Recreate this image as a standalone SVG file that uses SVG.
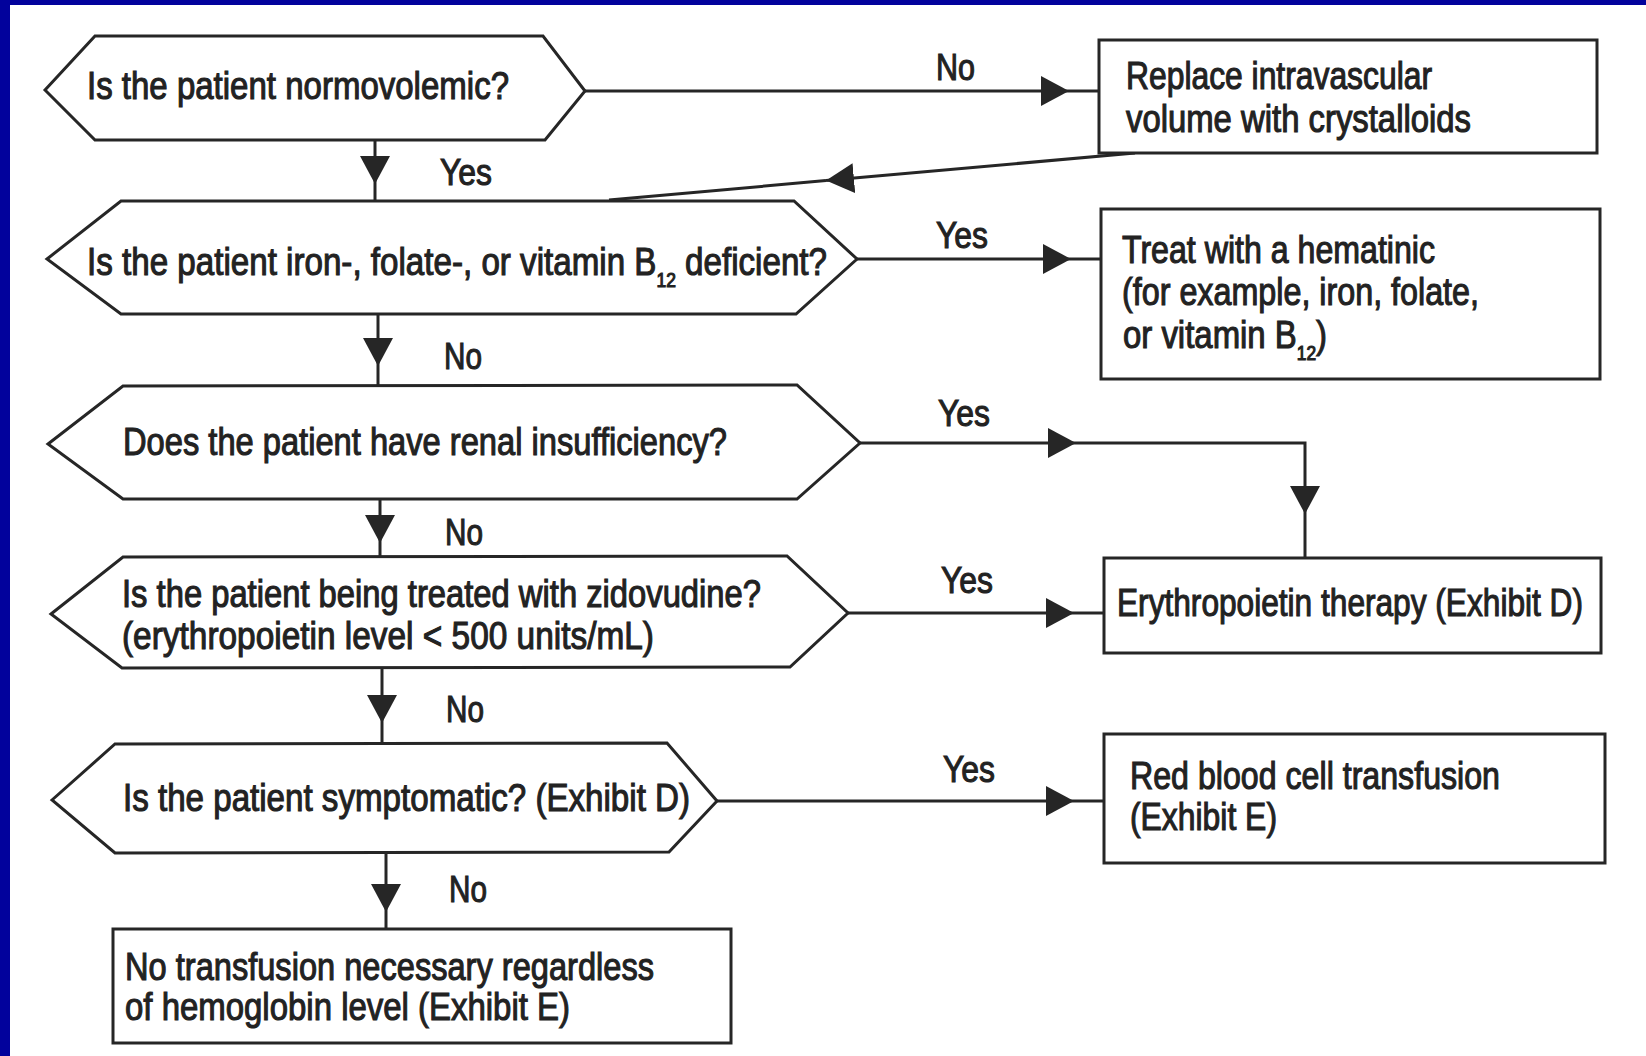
<svg xmlns="http://www.w3.org/2000/svg" width="1646" height="1056" viewBox="0 0 1646 1056">
  <style>
    .bg { fill: #ffffff; }
    .frame { fill: #02029c; }
    .shape { fill: #ffffff; stroke: #262626; stroke-width: 3; stroke-linejoin: miter; }
    .conn { fill: none; stroke: #262626; stroke-width: 3; }
    .t { font-family: "Liberation Sans Narrow", "Liberation Sans", Arial, sans-serif; font-size: 38px; fill: #222222; stroke: #222222; stroke-width: 1.1; }
    .lbl { font-family: "Liberation Sans Narrow", "Liberation Sans", Arial, sans-serif; font-size: 37px; fill: #222222; stroke: #222222; stroke-width: 1.1; }
    .sub { font-size: 20px; }
  </style>
  <defs>
    <marker id="ah" markerUnits="userSpaceOnUse" markerWidth="28" markerHeight="30" viewBox="0 0 28 30" refX="28" refY="15" orient="auto">
      <path d="M0,0 L28,15 L0,30 Z" fill="#262626"/>
    </marker>
  </defs>

  <rect class="bg" x="0" y="0" width="1646" height="1056"/>
  <rect class="frame" x="0" y="0" width="1646" height="5"/>
  <rect class="frame" x="0" y="0" width="10" height="1056"/>

  <g id="connectors">
    <path class="conn" d="M375,140 V184" marker-end="url(#ah)"/>
    <path class="conn" d="M375,184 V201"/>
    <path class="conn" d="M585,91 H1069" marker-end="url(#ah)"/>
    <path class="conn" d="M1069,91 H1099"/>
    <path class="conn" d="M1135,153 L826,180.6" marker-end="url(#ah)"/>
    <path class="conn" d="M826,180.6 L609,200"/>
    <path class="conn" d="M378,315 V366" marker-end="url(#ah)"/>
    <path class="conn" d="M378,366 V386"/>
    <path class="conn" d="M857,259 H1071" marker-end="url(#ah)"/>
    <path class="conn" d="M1071,259 H1101"/>
    <path class="conn" d="M380,499 V543" marker-end="url(#ah)"/>
    <path class="conn" d="M380,543 V557"/>
    <path class="conn" d="M860,443 H1076" marker-end="url(#ah)"/>
    <path class="conn" d="M1076,443 H1305 V514" marker-end="url(#ah)"/>
    <path class="conn" d="M1305,514 V558"/>
    <path class="conn" d="M382,668 V723" marker-end="url(#ah)"/>
    <path class="conn" d="M382,723 V744"/>
    <path class="conn" d="M848,613 H1074" marker-end="url(#ah)"/>
    <path class="conn" d="M1074,613 H1104"/>
    <path class="conn" d="M386,853 V912" marker-end="url(#ah)"/>
    <path class="conn" d="M386,912 V929"/>
    <path class="conn" d="M717,801 H1074" marker-end="url(#ah)"/>
    <path class="conn" d="M1074,801 H1104"/>

    <text class="lbl" x="440" y="185" textLength="52" lengthAdjust="spacingAndGlyphs">Yes</text>
    <text class="lbl" x="936" y="80" textLength="39" lengthAdjust="spacingAndGlyphs">No</text>
    <text class="lbl" x="444" y="369" textLength="38" lengthAdjust="spacingAndGlyphs">No</text>
    <text class="lbl" x="936" y="248" textLength="52" lengthAdjust="spacingAndGlyphs">Yes</text>
    <text class="lbl" x="445" y="545" textLength="38" lengthAdjust="spacingAndGlyphs">No</text>
    <text class="lbl" x="938" y="426" textLength="52" lengthAdjust="spacingAndGlyphs">Yes</text>
    <text class="lbl" x="446" y="722" textLength="38" lengthAdjust="spacingAndGlyphs">No</text>
    <text class="lbl" x="941" y="593" textLength="52" lengthAdjust="spacingAndGlyphs">Yes</text>
    <text class="lbl" x="449" y="902" textLength="38" lengthAdjust="spacingAndGlyphs">No</text>
    <text class="lbl" x="943" y="782" textLength="52" lengthAdjust="spacingAndGlyphs">Yes</text>
  </g>

  <g id="q1">
    <polygon class="shape" points="45,90 95,36 543,36 585,91 545,140 95,140"/>
    <text class="t" x="87" y="99" textLength="422" lengthAdjust="spacingAndGlyphs">Is the patient normovolemic?</text>
  </g>

  <g id="box1">
    <rect class="shape" x="1099" y="40" width="498" height="113"/>
    <text class="t" x="1126" y="89" textLength="306" lengthAdjust="spacingAndGlyphs">Replace intravascular</text>
    <text class="t" x="1126" y="132" textLength="345" lengthAdjust="spacingAndGlyphs">volume with crystalloids</text>
  </g>

  <g id="q2">
    <polygon class="shape" points="47,259 121,201 794,201 857,259 796,314 121,314"/>
    <text class="t" x="87" y="275" textLength="740" lengthAdjust="spacingAndGlyphs">Is the patient iron-, folate-, or vitamin B<tspan class="sub" dy="12">12</tspan><tspan dy="-12"> deficient?</tspan></text>
  </g>

  <g id="box2">
    <rect class="shape" x="1101" y="209" width="499" height="170"/>
    <text class="t" x="1122" y="263" textLength="313" lengthAdjust="spacingAndGlyphs">Treat with a hematinic</text>
    <text class="t" x="1122" y="305" textLength="357" lengthAdjust="spacingAndGlyphs">(for example, iron, folate,</text>
    <text class="t" x="1123" y="348" textLength="204" lengthAdjust="spacingAndGlyphs">or vitamin B<tspan class="sub" dy="12">12</tspan><tspan dy="-12">)</tspan></text>
  </g>

  <g id="q3">
    <polygon class="shape" points="48,444 123,386 797,385 860,443 797,499 123,499"/>
    <text class="t" x="123" y="455" textLength="604" lengthAdjust="spacingAndGlyphs">Does the patient have renal insufficiency?</text>
  </g>

  <g id="box3">
    <rect class="shape" x="1104" y="558" width="497" height="95"/>
    <text class="t" x="1117" y="616" textLength="466" lengthAdjust="spacingAndGlyphs">Erythropoietin therapy (Exhibit D)</text>
  </g>

  <g id="q4">
    <polygon class="shape" points="51,614 123,557 787,556 848,613 790,667 122,668"/>
    <text class="t" x="122" y="607" textLength="639" lengthAdjust="spacingAndGlyphs">Is the patient being treated with zidovudine?</text>
    <text class="t" x="122" y="649" textLength="532" lengthAdjust="spacingAndGlyphs">(erythropoietin level &lt; 500 units/mL)</text>
  </g>

  <g id="q5">
    <polygon class="shape" points="52,800 115,744 667,743 717,801 669,852 115,853"/>
    <text class="t" x="123" y="811" textLength="567" lengthAdjust="spacingAndGlyphs">Is the patient symptomatic? (Exhibit D)</text>
  </g>

  <g id="box5">
    <rect class="shape" x="1104" y="734" width="501" height="129"/>
    <text class="t" x="1130" y="789" textLength="370" lengthAdjust="spacingAndGlyphs">Red blood cell transfusion</text>
    <text class="t" x="1130" y="830" textLength="147" lengthAdjust="spacingAndGlyphs">(Exhibit E)</text>
  </g>

  <g id="box6">
    <rect class="shape" x="113" y="929" width="618" height="114"/>
    <text class="t" x="125" y="980" textLength="529" lengthAdjust="spacingAndGlyphs">No transfusion necessary regardless</text>
    <text class="t" x="125" y="1020" textLength="445" lengthAdjust="spacingAndGlyphs">of hemoglobin level (Exhibit E)</text>
  </g>
</svg>
